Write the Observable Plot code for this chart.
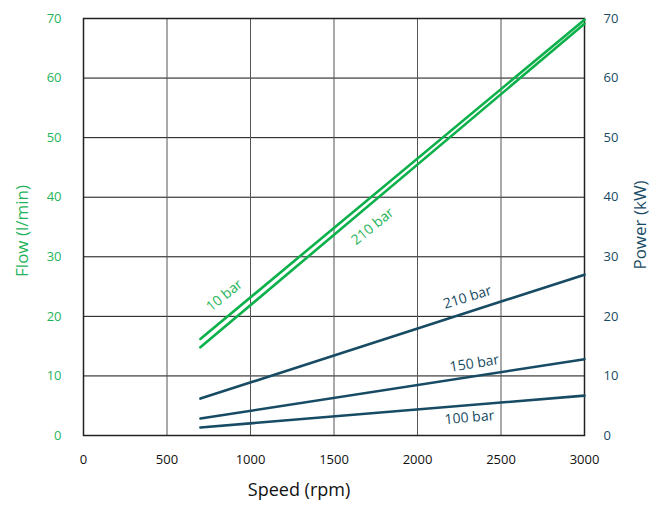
<!DOCTYPE html>
<html>
<head>
<meta charset="utf-8">
<script src="https://cdn.jsdelivr.net/npm/d3@7"></script>
<script src="https://cdn.jsdelivr.net/npm/@observablehq/plot@0.6"></script>
<style>
  html, body { margin: 0; padding: 0; background: #fff; }
  svg { font-family: "Open Sans", sans-serif; }
</style>
</head>
<body>
<div id="chart"></div>
<script>
// ---- data ----
const speedEnds = [700, 3000];
const flow10bar = [16.2, 69.8];
const flow210bar = [14.8, 69.1];
const power210bar = [6.2, 27.0];
const power150bar = [2.85, 12.8];
const power100bar = [1.35, 6.7];

const xTicks = [0, 500, 1000, 1500, 2000, 2500, 3000];
const yTicks = [0, 10, 20, 30, 40, 50, 60, 70];

const flowLabels = [
  {speed: 844, value: 23.5, text: "10 bar"},
  {speed: 1731, value: 35.1, text: "210 bar"}
];
const powerLabels = [
  {speed: 2299, value: 23.2, text: "210 bar", rot: -17},
  {speed: 2341, value: 12.1, text: "150 bar", rot: -9},
  {speed: 2311, value: 3.0, text: "100 bar", rot: -5}
];

const GREEN = "#0db14b";
const GREEN_TXT = "#1fb45a";
const BLUE = "#174b63";

const toRows = (vals) => speedEnds.map((s, i) => ({speed: s, value: vals[i]}));

const chart = Plot.plot({
  width: 652,
  height: 505,
  marginLeft: 83,
  marginRight: 68,
  marginTop: 18,
  marginBottom: 70,
  style: {fontFamily: "Open Sans, sans-serif", fontSize: "13px", background: "#fff"},
  x: {domain: [0, 3000]},
  y: {domain: [0, 70]},
  marks: [
    Plot.ruleY(yTicks.slice(1, -1), {stroke: "#111", strokeWidth: 1}),
    Plot.ruleX(xTicks.slice(1, -1), {stroke: "#555", strokeWidth: 1}),
    Plot.frame({stroke: "#222", strokeWidth: 1.5}),
    Plot.axisX({ticks: xTicks, tickFormat: (d) => String(d), tickSize: 0, tickPadding: 19, label: null, fill: "#111", fontSize: 13}),
    Plot.axisY({anchor: "left", ticks: yTicks, tickSize: 0, tickPadding: 22, label: null, fill: GREEN_TXT, fontSize: 13}),
    Plot.axisY({anchor: "right", ticks: yTicks, tickSize: 0, tickPadding: 19, label: null, fill: BLUE, fontSize: 13}),
    Plot.line(toRows(flow10bar), {x: "speed", y: "value", stroke: GREEN, strokeWidth: 2.6}),
    Plot.line(toRows(flow210bar), {x: "speed", y: "value", stroke: GREEN, strokeWidth: 2.6}),
    Plot.line(toRows(power210bar), {x: "speed", y: "value", stroke: BLUE, strokeWidth: 2.6}),
    Plot.line(toRows(power150bar), {x: "speed", y: "value", stroke: BLUE, strokeWidth: 2.6}),
    Plot.line(toRows(power100bar), {x: "speed", y: "value", stroke: BLUE, strokeWidth: 2.6}),
    Plot.text(flowLabels, {x: "speed", y: "value", text: "text", rotate: -39, fill: GREEN_TXT, fontSize: 14}),
    Plot.text(powerLabels, {x: "speed", y: "value", text: "text", rotate: "rot", fill: BLUE, fontSize: 14}),
    Plot.text(["Flow (l/min)"], {frameAnchor: "left", textAnchor: "middle", dx: -61, dy: 4, rotate: -90, fill: GREEN_TXT, fontSize: 17}),
    Plot.text(["Power (kW)"], {frameAnchor: "right", textAnchor: "middle", dx: 56, dy: -2, rotate: -90, fill: BLUE, fontSize: 17}),
    Plot.text(["Speed (rpm)"], {frameAnchor: "bottom", dx: -35, dy: 60, fill: "#111", fontSize: 18})
  ]
});
document.getElementById("chart").appendChild(chart);
</script>
</body>
</html>
